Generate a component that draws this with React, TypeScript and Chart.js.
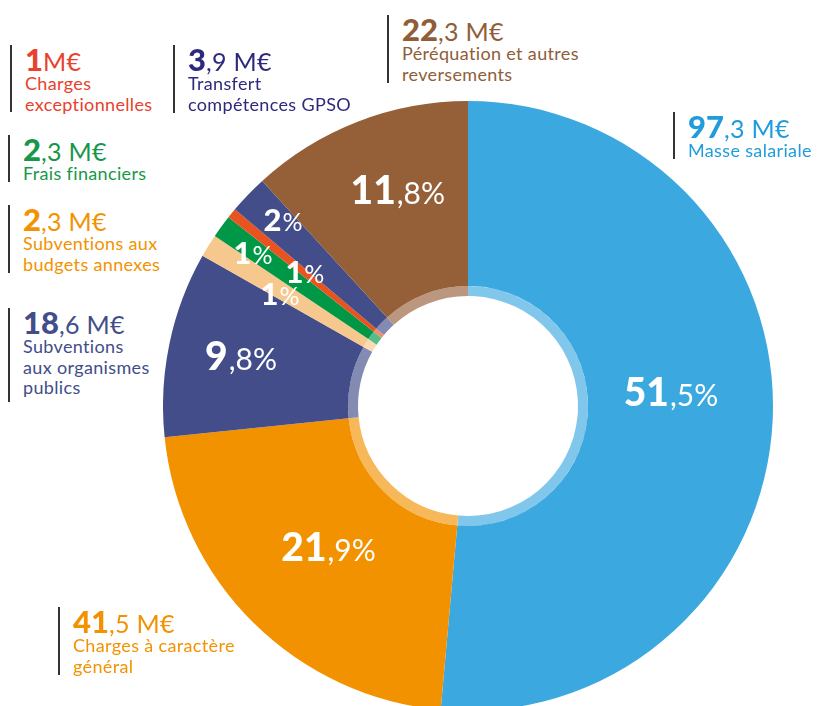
import React, { useEffect, useRef } from "react";
import { Chart, registerables } from "chart.js";

Chart.register(...registerables);

// ---- data ----
const categories = [
  "Masse salariale",
  "Charges à caractère général",
  "Subventions aux organismes publics",
  "Subventions aux budgets annexes",
  "Frais financiers",
  "Charges exceptionnelles",
  "Transfert compétences GPSO",
  "Péréquation et autres reversements",
];
const valuesMEuro = [97.3, 41.5, 18.6, 2.3, 2.3, 1, 3.9, 22.3];
const percentLabels = ["51,5%", "21,9%", "9,8%", "1%", "1%", "1%", "2%", "11,8%"];
const amountLabels = ["97,3 M€", "41,5 M€", "18,6 M€", "2,3 M€", "2,3 M€", "1M€", "3,9 M€", "22,3 M€"];
const categoryLines = [
  ["Masse salariale"],
  ["Charges à caractère", "général"],
  ["Subventions", "aux organismes", "publics"],
  ["Subventions aux", "budgets annexes"],
  ["Frais financiers"],
  ["Charges", "exceptionnelles"],
  ["Transfert", "compétences GPSO"],
  ["Péréquation et autres", "reversements"],
];

// ---- styles ----
const sliceColors = ["#3BA9E0", "#F39200", "#424D89", "#F7C88D", "#009846", "#E9531F", "#424D89", "#955F38"];
const textColors = ["#1E9CDB", "#F39200", "#424D89", "#F39200", "#17974A", "#E8412C", "#2D2A7E", "#8F5D38"];
// label placement inside slices: fraction of outer radius, angular shift (deg)
const LABEL_RADIUS = [0.667, 0.651, 0.762, 0.717, 0.865, 0.692, 0.86, 0.744];
const LABEL_SHIFT = [-6.5, 0, 0.6, -0.9, -0.6, 0.2, 1.3, 3.2];
// annotation block placement: [left, top, height]
const BLOCKS: [number, number, number][] = [
  [673, 112, 47],
  [58, 607, 68],
  [8, 308, 94],
  [8, 205, 68],
  [8, 135, 47],
  [10, 45, 67],
  [173, 45, 68],
  [387, 15, 68],
];

const FONT = "Lato, 'Open Sans', sans-serif";

function lighten(hex: string, a: number) {
  const n = parseInt(hex.slice(1), 16);
  const r = (n >> 16) & 255, g = (n >> 8) & 255, b = n & 255;
  const m = (c: number) => Math.round(c + (255 - c) * a);
  return `rgb(${m(r)},${m(g)},${m(b)})`;
}

const sliceLabelPlugin = {
  id: "sliceLabels",
  afterDatasetsDraw(chart: any) {
    const meta = chart.getDatasetMeta(0);
    const ctx = chart.ctx as CanvasRenderingContext2D;
    const total = valuesMEuro.reduce((s, v) => s + v, 0);
    meta.data.forEach((arc: any, i: number) => {
      const p = arc.getProps(["x", "y", "startAngle", "endAngle", "outerRadius"], true);
      const a = (p.startAngle + p.endAngle) / 2 + (LABEL_SHIFT[i] * Math.PI) / 180;
      const r = p.outerRadius * LABEL_RADIUS[i];
      const px = p.x + Math.cos(a) * r;
      const py = p.y + Math.sin(a) * r;
      const big = valuesMEuro[i] / total > 0.05;
      const hs = big ? 39 : 31;
      const ls = big ? 30 : 25;
      const m = percentLabels[i].match(/^(\d+)(.*)$/) || ["", percentLabels[i], ""];
      ctx.save();
      ctx.fillStyle = "#ffffff";
      ctx.textBaseline = "alphabetic";
      ctx.textAlign = "left";
      ctx.font = `900 ${hs}px ${FONT}`;
      const w1 = ctx.measureText(m[1]).width;
      ctx.font = `400 ${ls}px ${FONT}`;
      const w2 = ctx.measureText(m[2]).width;
      const x0 = px - (w1 + w2 + 1) / 2;
      const base = py + hs * 0.36;
      ctx.font = `900 ${hs}px ${FONT}`;
      ctx.fillText(m[1], x0, base);
      ctx.font = `400 ${ls}px ${FONT}`;
      ctx.fillText(m[2], x0 + w1 + 1, base);
      ctx.restore();
    });
  },
};

function Annotation({ i }: { i: number }) {
  const [left, top, height] = BLOCKS[i];
  const m = amountLabels[i].match(/^(\d+)(.*)$/) || ["", amountLabels[i], ""];
  return (
    <div
      style={{
        position: "absolute",
        left,
        top,
        height,
        borderLeft: "2px solid #333",
        paddingLeft: 13,
        color: textColors[i],
        fontFamily: FONT,
        whiteSpace: "nowrap",
      }}
    >
      <div style={{ lineHeight: "28px", height: 28 }}>
        <span style={{ fontWeight: 900, fontSize: 31 }}>{m[1]}</span>
        <span style={{ fontWeight: 400, fontSize: 25, letterSpacing: 0.3 }}>{m[2]}</span>
      </div>
      {categoryLines[i].map((l, k) => (
        <div key={k} style={{ fontSize: 18, lineHeight: "20.5px", fontWeight: 400, letterSpacing: 0.35 }}>
          {l}
        </div>
      ))}
    </div>
  );
}

export default function App() {
  const ref = useRef<HTMLCanvasElement>(null);
  useEffect(() => {
    if (!ref.current) return;
    const chart = new Chart(ref.current, {
      type: "doughnut",
      data: {
        labels: categories,
        datasets: [
          {
            data: valuesMEuro,
            backgroundColor: sliceColors,
            borderWidth: 0,
            weight: 185,
          } as any,
          {
            data: valuesMEuro,
            backgroundColor: sliceColors.map((c) => lighten(c, 0.35)),
            borderWidth: 0,
            weight: 10,
          } as any,
        ],
      },
      options: {
        responsive: false,
        animation: false,
        cutout: 110,
        layout: { padding: 0 },
        plugins: { legend: { display: false }, tooltip: { enabled: false } },
      } as any,
      plugins: [sliceLabelPlugin],
    });
    return () => chart.destroy();
  }, []);

  return (
    <div
      style={{
        position: "absolute",
        left: 0,
        top: 0,
        width: 830,
        height: 706,
        overflow: "hidden",
        background: "#ffffff",
      }}
    >
      <canvas
        ref={ref}
        width={610}
        height={610}
        style={{ position: "absolute", left: 163, top: 101, width: 610, height: 610 }}
      />
      {categories.map((_, i) => (
        <Annotation key={i} i={i} />
      ))}
    </div>
  );
}
